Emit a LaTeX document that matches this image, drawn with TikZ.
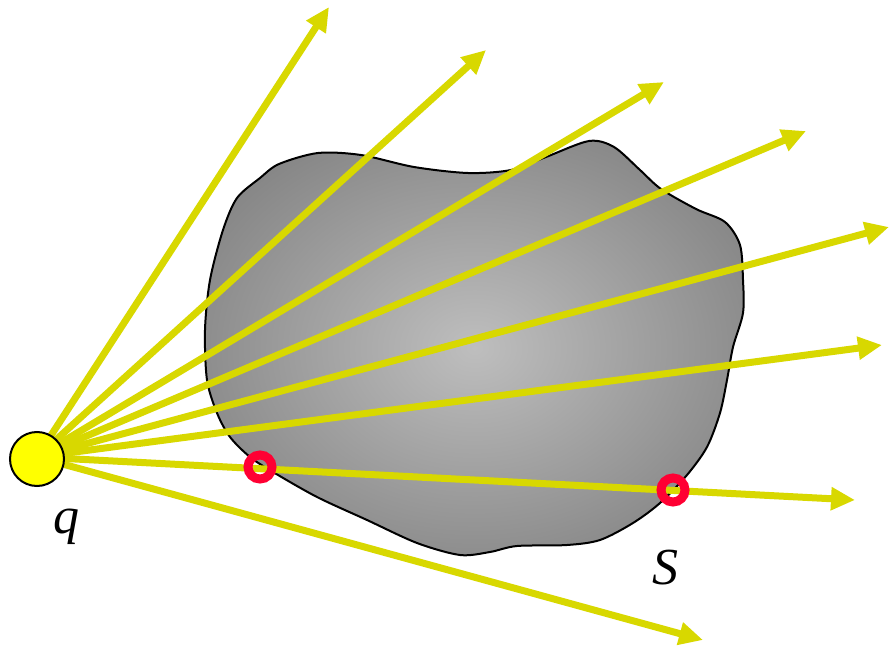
\documentclass[tikz,border=0pt]{standalone}
\usepackage{fontspec}
\setmainfont{Liberation Serif}
\usetikzlibrary{arrows.meta}
\definecolor{amarelo}{RGB}{216,216,0}
\definecolor{gema}{RGB}{255,255,0}
\definecolor{anel}{RGB}{255,0,51}
\definecolor{cinzaclaro}{RGB}{190,190,190}
\definecolor{cinzaescuro}{RGB}{124,124,124}
\pgfdeclareradialshading{corpo}{\pgfpoint{0bp}{0bp}}{color(0bp)=(cinzaclaro); color(34bp)=(cinzaescuro); color(100bp)=(cinzaescuro)}
\tikzset{
  raio/.style={line width=7pt, amarelo, -{Triangle[length=24pt, width=22pt]}},
  anelcorte/.style={circle, draw=anel, line width=9pt, minimum size=24pt, inner sep=0pt},
  rotulo/.style={font=\fontsize{52}{60}\selectfont\itshape, inner sep=0pt}
}
\begin{document}
\begin{tikzpicture}[x=1pt, y=-1pt]
  \useasboundingbox (0,0) rectangle (891,652);
  % o corpo S
  \path[draw=black, line width=2pt, shading=corpo]
    plot[smooth cycle, tension=0.5] coordinates {
      (237,198) (260,178) (279,164) (318,153) (361,155) (414,167) (468,173)
      (511,170) (546,157) (589,141) (614,147) (640,170) (661,189) (696,209)
      (725,222) (740,245) (743,280) (743,313) (733,347) (727,380) (720,413)
      (707,447) (687,475) (660,503) (633,523) (600,540) (567,545) (517,546)
      (490,552) (460,555) (417,543) (367,520) (317,497) (273,472) (250,457)
      (230,437) (217,413) (207,380) (205,330) (210,280) (223,230)};
  % os raios saem da carga
  \coordinate (fonte) at (37,457);
  \foreach \xn/\xx/\xy in {1/329/7, 2/486/50, 3/664/82, 4/806/131,
    5/889/227, 6/882/345, 7/855/500, 8/703/640}
  {
    \coordinate (ponta\xn) at (\xx,\xy);
    \draw[raio] (fonte) -- (ponta\xn);
  }
  % a carga
  \node[circle, draw=black, line width=2pt, fill=gema, minimum size=54pt, inner sep=0pt]
    (q) at (37,459) {};
  \node[rotulo] (rotq) at (66,527) {q};
  % onde o raio fura a superficie
  \node[anelcorte] (entrada) at (260,467) {};
  \node[anelcorte] (saida) at (673,490) {};
  \node[rotulo] (rots) at (665,568) {S};
\end{tikzpicture}
\end{document}
